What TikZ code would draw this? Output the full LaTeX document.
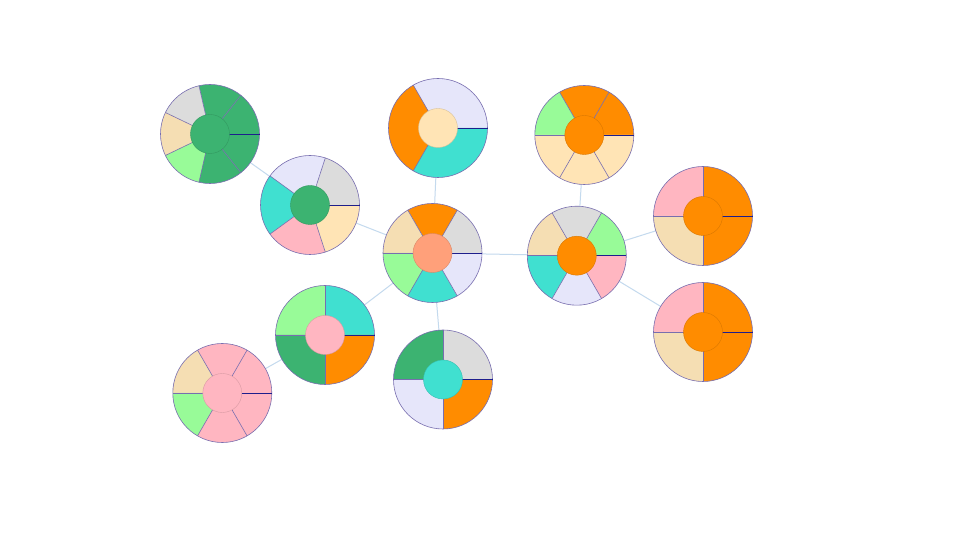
\documentclass[tikz,border=0pt]{standalone}
\definecolor{msgreen}{HTML}{3CB371}
\definecolor{gainsb}{HTML}{DCDCDC}
\definecolor{wheatc}{HTML}{F5DEB3}
\definecolor{palegr}{HTML}{98FB98}
\definecolor{turq}{HTML}{40E0D0}
\definecolor{lavend}{HTML}{E6E6FA}
\definecolor{lpink}{HTML}{FFB6C1}
\definecolor{mocc}{HTML}{FFE4B5}
\definecolor{dorange}{HTML}{FF8C00}
\definecolor{lsalmon}{HTML}{FFA07A}
\definecolor{edgeblue}{RGB}{196,218,238}
\definecolor{outlinep}{RGB}{120,110,175}
\definecolor{navyl}{RGB}{30,30,140}
\tikzset{
  edge/.style={draw=edgeblue, line width=1pt},
  slice line/.style={draw=outlinep, line width=0.6pt},
  first line/.style={draw=navyl, line width=0.8pt},
}
\newcommand\pr{49.5}
\newcommand\ir{19.5}
\newcommand\drawpie[3]{%
  \foreach \a/\b/\c in {#2} {
    \fill[\c] (#1) -- ++(\a:\pr) arc[start angle=\a, end angle=\b, radius=\pr] -- cycle;
  }
  \foreach \a/\b/\c in {#2} {
    \draw[slice line] (#1) -- ++(\a:\pr);
  }
  \draw[slice line] (#1) circle[radius=\pr];
  \draw[first line] (#1) -- ++(0:\pr);
  \fill[#3] (#1) circle[radius=\ir];
  \draw[#3!85!black, line width=0.4pt] (#1) circle[radius=\ir];
}
\begin{document}
\begin{tikzpicture}[x=1pt,y=1pt]
\fill[white] (0,0) rectangle (960,540);
\useasboundingbox (0,0) rectangle (960,540);
\coordinate (n1) at (210,406);
\coordinate (n2) at (310,335);
\coordinate (n3) at (432.5,287);
\coordinate (n4) at (438,412);
\coordinate (n5) at (584.3,405);
\coordinate (n6) at (576.8,284.3);
\coordinate (n7) at (703,324);
\coordinate (n8) at (703,208);
\coordinate (n9) at (325,205);
\coordinate (n10) at (443,160.5);
\coordinate (n11) at (222.3,147);
% edges
\draw[edge] (n1) -- (n2);
\draw[edge] (n2) -- (n3);
\draw[edge] (n3) -- (n4);
\draw[edge] (n3) -- (n6);
\draw[edge] (n3) -- (n9);
\draw[edge] (n3) -- (n10);
\draw[edge] (n5) -- (n6);
\draw[edge] (n6) -- (n7);
\draw[edge] (n6) -- (n8);
\draw[edge] (n9) -- (n11);
% pies
\drawpie{n1}{0/51.43/msgreen, 51.43/102.86/msgreen, 102.86/154.29/gainsb, 154.29/205.71/wheatc, 205.71/257.14/palegr, 257.14/308.57/msgreen, 308.57/360/msgreen}{msgreen}
\drawpie{n2}{0/72/gainsb, 72/144/lavend, 144/216/turq, 216/288/lpink, 288/360/mocc}{msgreen}
\drawpie{n3}{0/60/gainsb, 60/120/dorange, 120/180/wheatc, 180/240/palegr, 240/300/turq, 300/360/lavend}{lsalmon}
\drawpie{n4}{0/120/lavend, 120/240/dorange, 240/360/turq}{mocc}
\drawpie{n5}{0/60/dorange, 60/120/dorange, 120/180/palegr, 180/240/mocc, 240/300/mocc, 300/360/mocc}{dorange}
\drawpie{n6}{0/60/palegr, 60/120/gainsb, 120/180/wheatc, 180/240/turq, 240/300/lavend, 300/360/lpink}{dorange}
\drawpie{n7}{0/90/dorange, 90/180/lpink, 180/270/wheatc, 270/360/dorange}{dorange}
\drawpie{n8}{0/90/dorange, 90/180/lpink, 180/270/wheatc, 270/360/dorange}{dorange}
\drawpie{n9}{0/90/turq, 90/180/palegr, 180/270/msgreen, 270/360/dorange}{lpink}
\drawpie{n10}{0/90/gainsb, 90/180/msgreen, 180/270/lavend, 270/360/dorange}{turq}
\drawpie{n11}{0/60/lpink, 60/120/lpink, 120/180/wheatc, 180/240/palegr, 240/300/lpink, 300/360/lpink}{lpink}
\end{tikzpicture}
\end{document}
